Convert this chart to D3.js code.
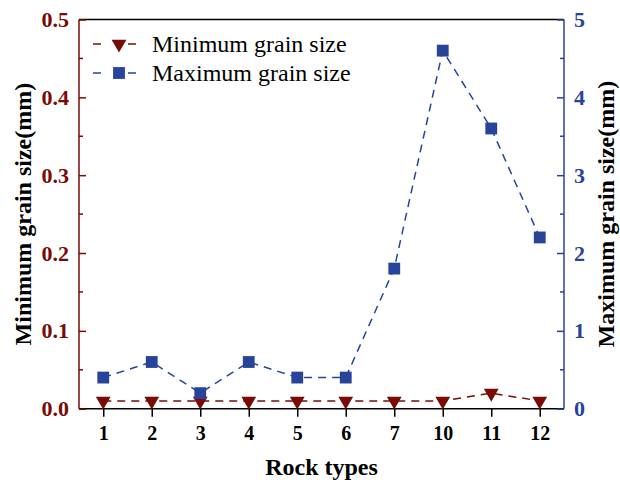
<!DOCTYPE html>
<html>
<head>
<meta charset="utf-8">
<script src="https://cdn.jsdelivr.net/npm/d3@7"></script>
<style>
  html, body { margin: 0; padding: 0; background: #fff; }
  svg { display: block; }
  svg text { font-family: "Liberation Serif", "Times New Roman", Times, "DejaVu Serif", serif !important; }
</style>
</head>
<body>
<svg id="chart" width="620" height="484"></svg>
<script>
// Grain size per rock type
const rockTypes = ["1", "2", "3", "4", "5", "6", "7", "10", "11", "12"];
const minGrain = [0.01, 0.01, 0.01, 0.01, 0.01, 0.01, 0.01, 0.01, 0.02, 0.01];
const maxGrain = [0.4, 0.6, 0.2, 0.6, 0.4, 0.4, 1.8, 4.6, 3.6, 2.2];
const leftTicks = [0.0, 0.1, 0.2, 0.3, 0.4, 0.5];
const rightTicks = [0, 1, 2, 3, 4, 5];
const seriesNames = ["Minimum grain size", "Maximum grain size"];

const RED = "#7a0a05";
const BLUE = "#27449a";
const SERIF = '"Liberation Serif", "Times New Roman", Times, "DejaVu Serif", serif';

const svg = d3.select("#chart");
const m = { left: 79, right: 564, top: 19.5, bottom: 408.7 };

const x = d3.scalePoint().domain(rockTypes).range([m.left, m.right]).padding(0.5);
const yL = d3.scaleLinear().domain([0, 0.5]).range([m.bottom, m.top]);
const yR = d3.scaleLinear().domain([0, 5]).range([m.bottom, m.top]);

// frame: top border
svg.append("line").attr("x1", m.left).attr("x2", m.right)
  .attr("y1", m.top).attr("y2", m.top)
  .attr("stroke", "#000").attr("stroke-width", 1.5);

// bottom axis
const gx = svg.append("g").attr("transform", `translate(0,${m.bottom})`)
  .call(d3.axisBottom(x).tickSize(8).tickPadding(9));
gx.attr("font-family", SERIF);
gx.select(".domain").attr("d", `M${m.left},0H${m.right}`).attr("stroke", "#000").attr("stroke-width", 1.5);
gx.selectAll(".tick line").attr("stroke", "#000").attr("stroke-width", 1.5);
gx.selectAll(".tick text").attr("fill", "#000")
  .style("font-weight", "bold").style("font-size", "20px");

// left axis (minimum)
const gl = svg.append("g").attr("transform", `translate(${m.left},0)`)
  .call(d3.axisLeft(yL).tickValues(leftTicks).tickFormat(d3.format(".1f")).tickSize(-7).tickPadding(10));
gl.attr("font-family", SERIF);
gl.select(".domain").attr("stroke", RED).attr("stroke-width", 1.5).attr("d", `M0,${m.bottom}V${m.top}`);
gl.selectAll(".tick line").attr("stroke", RED).attr("stroke-width", 1.5);
gl.selectAll(".tick text").attr("fill", RED)
  .style("font-weight", "bold").style("font-size", "22px");
gl.selectAll(".minor").data(d3.range(0.05, 0.5, 0.1)).enter().append("line")
  .attr("x1", 0).attr("x2", 4).attr("y1", d => yL(d)).attr("y2", d => yL(d))
  .attr("stroke", RED).attr("stroke-width", 1.5);

// right axis (maximum)
const gr = svg.append("g").attr("transform", `translate(${m.right},0)`)
  .call(d3.axisRight(yR).tickValues(rightTicks).tickFormat(d3.format("d")).tickSize(-7).tickPadding(10));
gr.attr("font-family", SERIF);
gr.select(".domain").attr("stroke", BLUE).attr("stroke-width", 1.5).attr("d", `M0,${m.bottom}V${m.top}`);
gr.selectAll(".tick line").attr("stroke", BLUE).attr("stroke-width", 1.5);
gr.selectAll(".tick text").attr("fill", BLUE)
  .style("font-weight", "bold").style("font-size", "22px");
gr.selectAll(".minor").data(d3.range(0.5, 5, 1)).enter().append("line")
  .attr("x1", 0).attr("x2", -4).attr("y1", d => yR(d)).attr("y2", d => yR(d))
  .attr("stroke", BLUE).attr("stroke-width", 1.5);

// axis titles
svg.append("text").attr("transform", `translate(31,${(m.top + m.bottom) / 2}) rotate(-90)`)
  .attr("text-anchor", "middle").style("font-weight", "bold").style("font-size", "24px")
  .text("Minimum grain size(mm)");
svg.append("text").attr("transform", `translate(614,${(m.top + m.bottom) / 2}) rotate(-90)`)
  .attr("text-anchor", "middle").style("font-weight", "bold").style("font-size", "24px")
  .text("Maximum grain size(mm)");
svg.append("text").attr("x", (m.left + m.right) / 2).attr("y", 475)
  .attr("text-anchor", "middle").style("font-weight", "bold").style("font-size", "24px")
  .text("Rock types");

const tri = d3.symbol().type(d3.symbolTriangle).size(95);
const sq = d3.symbol().type(d3.symbolSquare).size(140);

// minimum series
const minPts = rockTypes.map((c, i) => [x(c), yL(minGrain[i])]);
svg.append("path").attr("d", d3.line()(minPts)).attr("fill", "none")
  .attr("stroke", RED).attr("stroke-width", 1.5).attr("stroke-dasharray", "8,6");
svg.selectAll(".tri").data(minPts).enter().append("path")
  .attr("d", tri).attr("fill", RED)
  .attr("transform", d => `translate(${d[0]},${d[1]}) rotate(180)`);

// maximum series
const maxPts = rockTypes.map((c, i) => [x(c), yR(maxGrain[i])]);
svg.append("path").attr("d", d3.line()(maxPts)).attr("fill", "none")
  .attr("stroke", BLUE).attr("stroke-width", 1.5).attr("stroke-dasharray", "8,6");
svg.selectAll(".sq").data(maxPts).enter().append("path")
  .attr("d", sq).attr("fill", BLUE)
  .attr("transform", d => `translate(${d[0]},${d[1]})`);

// legend
const legend = svg.append("g");
const rows = [
  { name: seriesNames[0], color: RED, sym: tri, rot: 180, y: 44 },
  { name: seriesNames[1], color: BLUE, sym: sq, rot: 0, y: 73 }
];
rows.forEach(r => {
  legend.append("line").attr("x1", 93).attr("x2", 101).attr("y1", r.y).attr("y2", r.y)
    .attr("stroke", r.color).attr("stroke-width", 1.5);
  legend.append("line").attr("x1", 128).attr("x2", 136).attr("y1", r.y).attr("y2", r.y)
    .attr("stroke", r.color).attr("stroke-width", 1.5);
  legend.append("path").attr("d", r.sym).attr("fill", r.color)
    .attr("transform", `translate(119,${r.y}) rotate(${r.rot})`);
  legend.append("text").attr("x", 152).attr("y", r.y + 8)
    .style("font-size", "24px").attr("fill", "#000").text(r.name);
});
</script>
</body>
</html>
